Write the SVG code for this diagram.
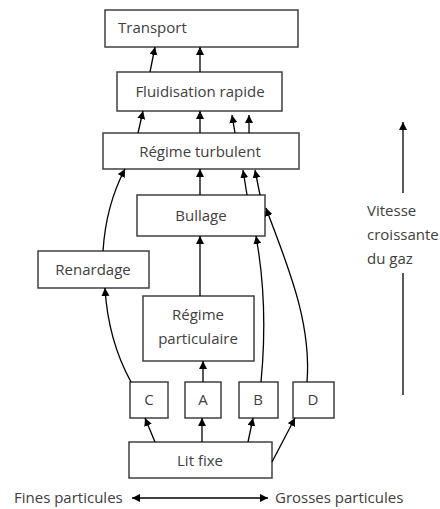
<svg xmlns="http://www.w3.org/2000/svg" width="440" height="509" viewBox="0 0 440 509">
<style>
.box{fill:#fff;stroke:#404040;stroke-width:1.5}
.t{font-family:"Open Sans","Liberation Sans",sans-serif;font-size:15px;fill:#404040}
.c{text-anchor:middle}
.e{fill:none;stroke:#000;stroke-width:1.3;marker-end:url(#ah)}
.l{fill:none;stroke:#000;stroke-width:1.3}
</style>
<defs>
<marker id="ah" markerUnits="userSpaceOnUse" markerWidth="10" markerHeight="10" refX="8" refY="4" orient="auto">
<path d="M0,0 L8,4 L0,8 Z" fill="#000"/>
</marker>
<marker id="ahs" markerUnits="userSpaceOnUse" markerWidth="10" markerHeight="10" refX="0" refY="4" orient="auto">
<path d="M8,0 L0,4 L8,8 Z" fill="#000"/>
</marker>
</defs>
<g id="transport"><rect class="box" x="105" y="10" width="193" height="37"/><text class="t" x="118" y="33">Transport</text></g>
<g id="fluidisation"><rect class="box" x="117" y="72" width="165" height="39"/><text class="t c" x="200" y="97">Fluidisation rapide</text></g>
<g id="turbulent"><rect class="box" x="103" y="133" width="196" height="36"/><text class="t c" x="200" y="157">Régime turbulent</text></g>
<g id="bullage"><rect class="box" x="137" y="195" width="128" height="41"/><text class="t c" x="201" y="221">Bullage</text></g>
<g id="renardage"><rect class="box" x="38" y="251" width="111" height="37"/><text class="t c" x="93" y="275">Renardage</text></g>
<g id="particulaire"><rect class="box" x="143" y="296" width="111" height="65"/><text class="t c" x="198" y="320">Régime</text><text class="t c" x="198" y="344">particulaire</text></g>
<g id="C"><rect class="box" x="130" y="382" width="38" height="36"/><text class="t c" x="149" y="405">C</text></g>
<g id="A"><rect class="box" x="185" y="382" width="36" height="36"/><text class="t c" x="203" y="405">A</text></g>
<g id="B"><rect class="box" x="239" y="382" width="39" height="36"/><text class="t c" x="258" y="405">B</text></g>
<g id="D"><rect class="box" x="293" y="382" width="41" height="36"/><text class="t c" x="313" y="405">D</text></g>
<g id="litfixe"><rect class="box" x="129" y="442" width="143" height="36"/><text class="t c" x="200" y="466">Lit fixe</text></g>
<g id="labels">
<text class="t" x="14" y="503">Fines particules</text>
<text class="t" x="275" y="503">Grosses particules</text>
<text class="t" x="367" y="216">Vitesse</text>
<text class="t" x="367" y="240">croissante</text>
<text class="t" x="367" y="264">du gaz</text>
</g>
<g id="connectors">
<path class="e" d="M150,72 L155,47"/>
<path class="e" d="M200,72 L200,47"/>
<path class="e" d="M138,133 L143,111"/>
<path class="e" d="M200,133 L200,111"/>
<path class="e" d="M235,133 L232,115"/>
<path class="e" d="M249,133 L249,115"/>
<path class="e" d="M200,195 L200,169"/>
<path class="e" d="M247,195 L243,170"/>
<path class="e" d="M260,195 L255,170"/>
<path class="e" d="M200,296 L200,236"/>
<path class="e" d="M103,251 Q106,205 125,169"/>
<path class="e" d="M131,382 Q108,340 105,288"/>
<path class="e" d="M203,382 L203,361"/>
<path class="e" d="M261,382 C266,330 264,280 256,236"/>
<path class="e" d="M307,382 C312,320 285,260 266,208"/>
<path class="e" d="M155,442 L145,418"/>
<path class="e" d="M202,442 L202,418"/>
<path class="e" d="M248,442 L253,418"/>
<path class="e" d="M272,462 L295,418"/>
<path class="l" d="M132,498 L268,498" marker-start="url(#ahs)" marker-end="url(#ah)"/>
<path class="e" d="M403,193 L403,122"/>
<path class="l" d="M403,273 L403,395"/>
</g>
</svg>
